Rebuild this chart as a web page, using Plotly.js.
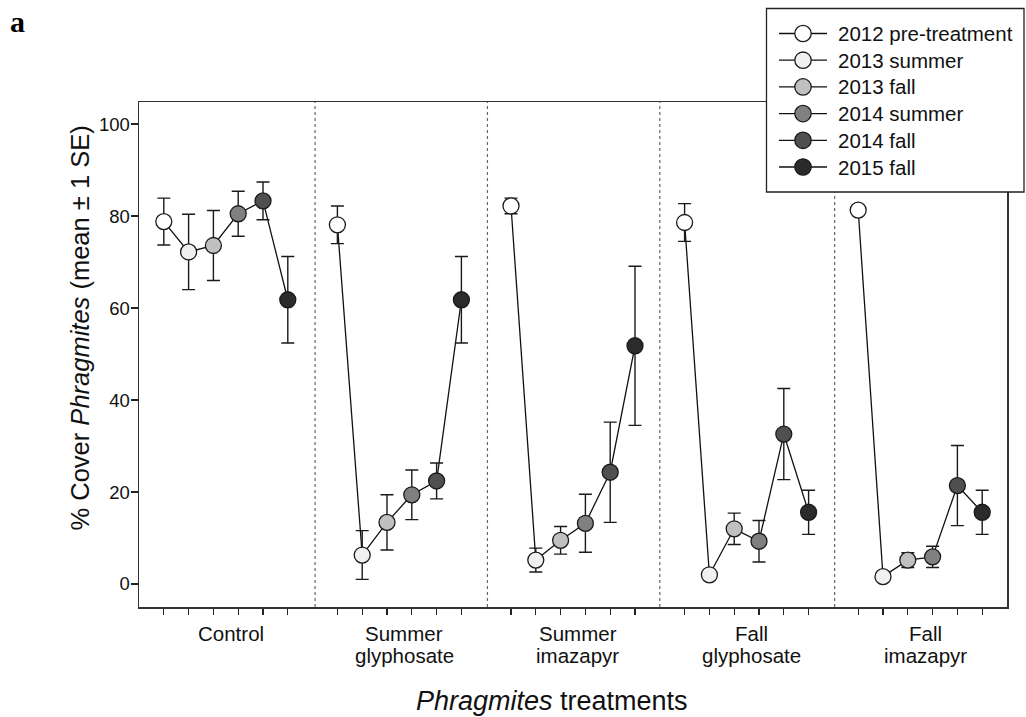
<!DOCTYPE html>
<html>
<head>
<meta charset="utf-8">
<script src="https://cdn.plot.ly/plotly-3.0.1.min.js"></script>
<style>html,body{margin:0;padding:0;background:#fff;}#chart{width:1026px;height:717px;}</style>
</head>
<body>
<div id="chart"></div>
<script>
// Treatment groups (x axis categories)
const groups = ["Control", "Summer\nglyphosate", "Summer\nimazapyr", "Fall\nglyphosate", "Fall\nimazapyr"];
// Sampling periods (legend)
const periods = ["2012 pre-treatment", "2013 summer", "2013 fall", "2014 summer", "2014 fall", "2015 fall"];
const periodColors = ["#ffffff", "#f0f0f0", "#c0c0c0", "#808080", "#505050", "#2b2b2b"];

// Mean % cover per period, one value per treatment group
const mean2012pre = [78.8, 78.1, 82.2, 78.6, 81.3];
const mean2013sum = [72.2, 6.3, 5.2, 2.0, 1.6];
const mean2013fall = [73.6, 13.4, 9.5, 12.0, 5.2];
const mean2014sum = [80.5, 19.4, 13.2, 9.3, 5.9];
const mean2014fall = [83.3, 22.4, 24.3, 32.6, 21.4];
const mean2015fall = [61.8, 61.8, 51.8, 15.6, 15.6];

// Standard errors
const se2012pre = [5.1, 4.1, 1.7, 4.1, 0.6];
const se2013sum = [8.2, 5.3, 2.6, 0.4, 0.4];
const se2013fall = [7.6, 6.0, 3.0, 3.4, 1.6];
const se2014sum = [4.9, 5.4, 6.3, 4.5, 2.3];
const se2014fall = [4.1, 3.9, 10.9, 9.9, 8.7];
const se2015fall = [9.4, 9.4, 17.3, 4.8, 4.8];

const yTicks = [0, 20, 40, 60, 80, 100];

const means = [mean2012pre, mean2013sum, mean2013fall, mean2014sum, mean2014fall, mean2015fall];
const ses = [se2012pre, se2013sum, se2013fall, se2014sum, se2014fall, se2015fall];

// x position: groups of 6 slots separated by one empty slot
const slot = (g, p) => g * (periods.length + 1) + p + 1;

const traces = [];
// connecting line within each treatment
groups.forEach((g, gi) => {
  traces.push({
    x: periods.map((_, pi) => slot(gi, pi)),
    y: means.map(m => m[gi]),
    mode: 'lines', type: 'scatter',
    line: {color: '#111', width: 1.3},
    showlegend: false, hoverinfo: 'skip'
  });
});
// markers per period
periods.forEach((p, pi) => {
  traces.push({
    x: groups.map((g, gi) => slot(gi, pi)),
    y: means[pi], name: p, type: 'scatter', mode: 'markers',
    marker: {size: 16, color: periodColors[pi], line: {color: '#1a1a1a', width: 1.3}},
    error_y: {type: 'data', array: ses[pi], visible: true, color: '#1a1a1a', thickness: 1.4, width: 6.5},
    showlegend: false
  });
});

const allSlots = [];
groups.forEach((g, gi) => periods.forEach((p, pi) => allSlots.push(slot(gi, pi))));

// pixel -> paper helpers for layout placement
const L = 139, R = 1007, T = 102, B = 607;
const px = v => (v - L) / (R - L);
const py = v => (B - v) / (B - T);

const sepX = [7.1, 14.05, 21.0, 28.05];
const shapes = sepX.map(x => ({
  type: 'line', xref: 'x', yref: 'paper', x0: x, x1: x, y0: 0, y1: 1,
  line: {color: '#666', width: 1.2, dash: 'dot'}, layer: 'below'
}));

const font = "'Liberation Sans', Arial, sans-serif";
const annotations = [];

// legend (box, line-and-marker symbols, labels)
shapes.push({
  type: 'rect', xref: 'paper', yref: 'paper', x0: px(766.5), x1: px(1024), y0: py(8.5), y1: py(192),
  fillcolor: '#fff', line: {color: '#222', width: 1.3}, layer: 'above'
});
periods.forEach((p, pi) => {
  const rowY = 33.5 + pi * 26.7;
  shapes.push({
    type: 'line', xref: 'paper', yref: 'paper', x0: px(779), x1: px(827), y0: py(rowY), y1: py(rowY),
    line: {color: '#111', width: 1.3}, layer: 'above'
  });
  shapes.push({
    type: 'circle', xref: 'paper', yref: 'paper', xsizemode: 'pixel', ysizemode: 'pixel',
    xanchor: px(803), yanchor: py(rowY), x0: -8.2, x1: 8.2, y0: -8.2, y1: 8.2,
    fillcolor: periodColors[pi], line: {color: '#1a1a1a', width: 1.3}, layer: 'above'
  });
  annotations.push({
    text: p, xref: 'paper', yref: 'paper', x: px(836), y: py(rowY),
    xanchor: 'left', yanchor: 'middle', showarrow: false,
    font: {family: font, size: 20.5, color: '#111'}
  });
});

groups.forEach((g, gi) => {
  const lines = g.split('\n');
  const cx = slot(gi, 2.5) + 0.2;
  lines.forEach((t, li) => {
    annotations.push({
      text: t, xref: 'x', yref: 'paper', x: cx,
      y: py(633 + li * 22), xanchor: 'center', yanchor: 'middle',
      showarrow: false, font: {family: font, size: 20.5, color: '#111'}
    });
  });
});
annotations.push({
  text: '<i>Phragmites</i> treatments', xref: 'paper', yref: 'paper',
  x: px(552), y: py(701), xanchor: 'center', yanchor: 'middle',
  showarrow: false, font: {family: font, size: 27, color: '#111'}
});
annotations.push({
  text: '% Cover <i>Phragmites</i> (mean ± 1 SE)', xref: 'paper', yref: 'paper',
  x: px(79), y: py(328.5), xanchor: 'center', yanchor: 'middle',
  textangle: -90, showarrow: false, font: {family: font, size: 25.5, color: '#111'}
});
annotations.push({
  text: '<b>a</b>', xref: 'paper', yref: 'paper',
  x: px(17.5), y: py(21), xanchor: 'center', yanchor: 'middle',
  showarrow: false, font: {family: "'Liberation Serif', 'Times New Roman', serif", size: 30, color: '#000'}
});

const layout = {
  width: 1026, height: 717,
  margin: {l: L, r: 1026 - R, t: T, b: 717 - B},
  paper_bgcolor: '#fff', plot_bgcolor: '#fff',
  font: {family: font, color: '#111'},
  xaxis: {
    range: [0, 35], tickvals: allSlots, showticklabels: false,
    ticks: 'outside', ticklen: 6, tickwidth: 1.2, tickcolor: '#222',
    showline: true, mirror: true, linecolor: '#333', linewidth: 1.5,
    showgrid: false, zeroline: false
  },
  yaxis: {
    range: [-5, 104.8], tickvals: yTicks, ticktext: yTicks.map(String),
    ticks: 'outside', ticklen: 7, tickwidth: 1.2, tickcolor: '#222',
    tickfont: {size: 18.5, family: font, color: '#111'}, ticklabelstandoff: -3,
    showline: true, mirror: true, linecolor: '#333', linewidth: 1.5,
    showgrid: false, zeroline: false
  },
  showlegend: false,
  shapes: shapes,
  annotations: annotations
};

Plotly.newPlot('chart', traces, layout, {displayModeBar: false, staticPlot: true});
</script>
</body>
</html>
